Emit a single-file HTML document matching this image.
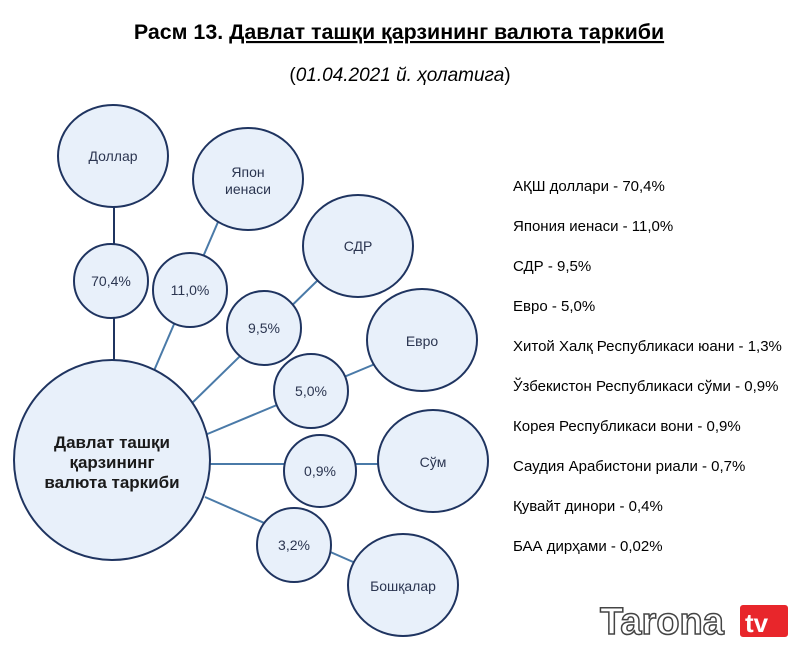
<!DOCTYPE html>
<html><head><meta charset="utf-8"><style>
body{margin:0;width:800px;height:648px;background:#fff;overflow:hidden;font-family:"Liberation Sans",sans-serif}
</style></head><body>
<svg width="800" height="648" xmlns="http://www.w3.org/2000/svg" font-family="Liberation Sans, sans-serif">
<text x="399" y="39" text-anchor="middle" font-size="21.4" font-weight="bold" fill="#000">Расм 13. <tspan text-decoration="underline">Давлат ташқи қарзининг валюта таркиби</tspan></text>
<text x="400" y="81" text-anchor="middle" font-size="19" fill="#000">(<tspan font-style="italic">01.04.2021 й. ҳолатига</tspan>)</text>
<g stroke-width="2" fill="none">
<line x1="114" y1="200" x2="114" y2="370" stroke="#1f3460"/>
<line x1="218" y1="222" x2="150" y2="380" stroke="#4a7aa8"/>
<line x1="318" y1="280" x2="190" y2="405" stroke="#4a7aa8"/>
<line x1="375" y1="364" x2="205" y2="435" stroke="#4a7aa8"/>
<line x1="210" y1="464" x2="390" y2="464" stroke="#4a7aa8"/>
<line x1="205" y1="497" x2="360" y2="565" stroke="#4a7aa8"/>
</g>
<g fill="#e8f0fa" stroke="#1f3460" stroke-width="2">
<ellipse cx="113" cy="156" rx="55" ry="51"/>
<ellipse cx="248" cy="179" rx="55" ry="51"/>
<ellipse cx="358" cy="246" rx="55" ry="51"/>
<ellipse cx="422" cy="340" rx="55" ry="51"/>
<ellipse cx="433" cy="461" rx="55" ry="51"/>
<ellipse cx="403" cy="585" rx="55" ry="51"/>
<ellipse cx="112" cy="460" rx="98" ry="100"/>
<circle cx="111" cy="281" r="37"/>
<circle cx="190" cy="290" r="37"/>
<circle cx="264" cy="328" r="37"/>
<circle cx="311" cy="391" r="37"/>
<circle cx="320" cy="471" r="36"/>
<circle cx="294" cy="545" r="37"/>
</g>
<g font-size="14" fill="#2b3550" text-anchor="middle">
<text x="113" y="161">Доллар</text>
<text x="248" y="177">Япон</text><text x="248" y="194">иенаси</text>
<text x="358" y="251">СДР</text>
<text x="422" y="346">Евро</text>
<text x="433" y="467">Сўм</text>
<text x="403" y="591">Бошқалар</text>
<text x="111" y="286">70,4%</text>
<text x="190" y="295">11,0%</text>
<text x="264" y="333">9,5%</text>
<text x="311" y="396">5,0%</text>
<text x="320" y="476">0,9%</text>
<text x="294" y="550">3,2%</text>
</g>
<g font-size="17" font-weight="bold" fill="#1a1a1a" text-anchor="middle">
<text x="112" y="448">Давлат ташқи</text>
<text x="112" y="468">қарзининг</text>
<text x="112" y="488">валюта таркиби</text>
</g>
<g font-size="15" fill="#000">
<text x="513" y="191">АҚШ доллари - 70,4%</text>
<text x="513" y="231">Япония иенаси - 11,0%</text>
<text x="513" y="271">СДР - 9,5%</text>
<text x="513" y="311">Евро - 5,0%</text>
<text x="513" y="351">Хитой Халқ Республикаси юани - 1,3%</text>
<text x="513" y="391">Ўзбекистон Республикаси сўми - 0,9%</text>
<text x="513" y="431">Корея Республикаси вони - 0,9%</text>
<text x="513" y="471">Саудия Арабистони риали - 0,7%</text>
<text x="513" y="511">Қувайт динори - 0,4%</text>
<text x="513" y="551">БАА дирҳами - 0,02%</text>
</g>
<text x="600" y="634" font-size="38" fill="#fff" stroke="#444" stroke-width="1.5" font-weight="bold">Tarona</text>
<rect x="740" y="605" width="48" height="32" rx="3" fill="#e8262b"/>
<text x="745" y="632" font-size="26" font-weight="bold" fill="#fff">tv</text>
</svg>
</body></html>
